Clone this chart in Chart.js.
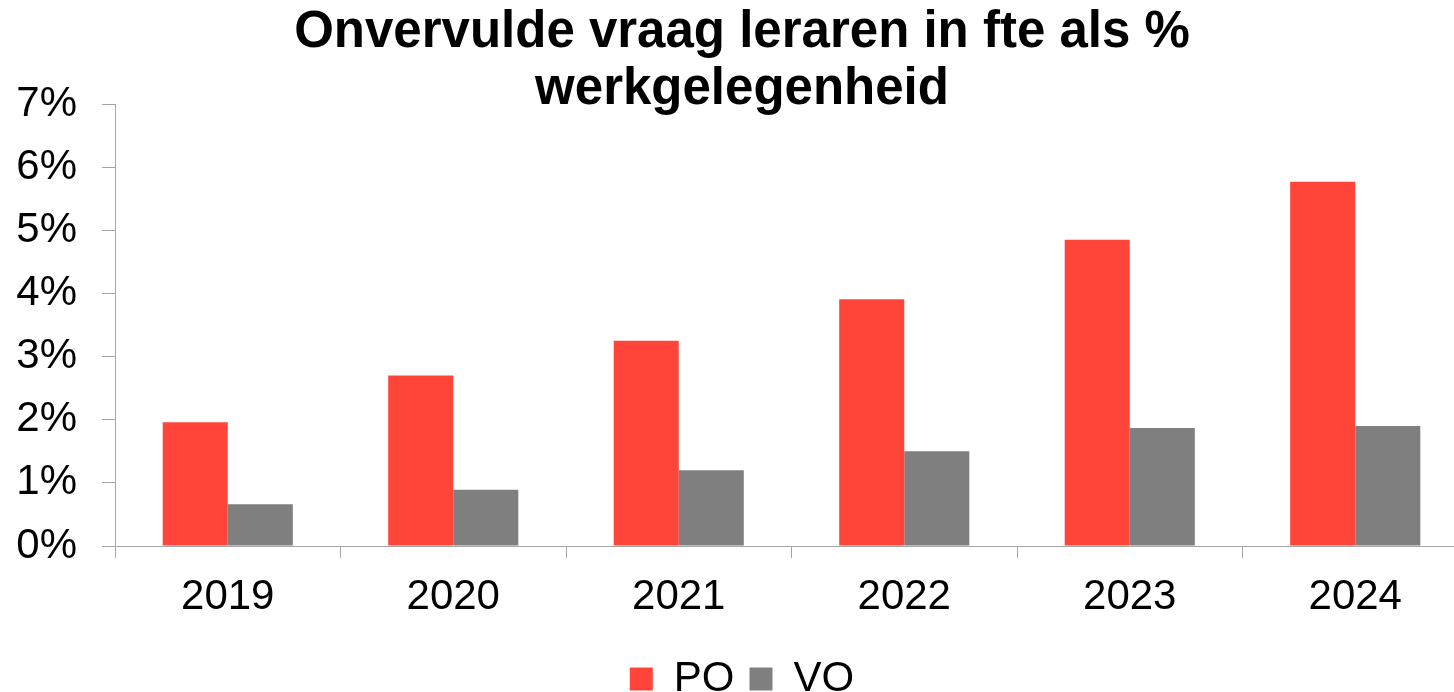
<!DOCTYPE html>
<html>
<head>
<meta charset="utf-8">
<script src="https://cdn.jsdelivr.net/npm/chart.js@4"></script>
<style>
    html, body { margin: 0; padding: 0; background: #fff; overflow: hidden; }
    #wrap { position: absolute; left: 0; top: 0; width: 1480px; height: 710px; }
</style>
</head>
<body>
<div id="wrap"><canvas id="chart" width="1480" height="710"></canvas></div>
<script>
"use strict";

// data
const years = ['2019', '2020', '2021', '2022', '2023', '2024'];
const poValues = [1.96, 2.70, 3.25, 3.91, 4.85, 5.77];
const voValues = [0.66, 0.89, 1.20, 1.50, 1.87, 1.90];
const titleLines = ['Onvervulde vraag leraren in fte als %', 'werkgelegenheid'];

const FONT = "'Liberation Sans', Arial, sans-serif";
const AXIS_COLOR = '#a6a6a6';

Chart.defaults.font.family = FONT;
Chart.defaults.color = '#000';

const config = {
    type: 'bar',
    data: {
        labels: years,
        datasets: [{
            label: 'PO',
            data: poValues,
            backgroundColor: '#ff453a',
            borderWidth: 0
        }, {
            label: 'VO',
            data: voValues,
            backgroundColor: '#7f7f7f',
            borderWidth: 0
        }]
    },
    options: {
        responsive: false,
        animation: false,
        devicePixelRatio: 1,
        categoryPercentage: 0.577,
        barPercentage: 1,
        layout: {
            padding: { left: 16, right: 12, top: 0, bottom: 0 }
        },
        plugins: {
            title: {
                display: true,
                text: titleLines,
                font: { size: 51, weight: 'bold', lineHeight: 1.118 },
                color: '#000',
                padding: { top: 4, bottom: -14 }
            },
            legend: {
                position: 'bottom',
                labels: {
                    boxWidth: 23,
                    boxHeight: 23,
                    padding: 15,
                    font: { size: 42 }
                }
            },
            tooltip: { enabled: false }
        },
        scales: {
            y: {
                min: 0,
                max: 7,
                afterFit: (scale) => { scale.width = 99; },
                ticks: {
                    stepSize: 1,
                    padding: 25,
                    font: { size: 42 },
                    callback: (v) => v + '%'
                },
                grid: {
                    drawOnChartArea: false,
                    drawTicks: true,
                    tickLength: 13,
                    color: AXIS_COLOR
                },
                border: { color: AXIS_COLOR, width: 1 }
            },
            x: {
                afterFit: (scale) => { scale.height = 97; },
                ticks: {
                    padding: 13.8,
                    font: { size: 42 }
                },
                grid: {
                    drawOnChartArea: false,
                    drawTicks: true,
                    tickLength: 12,
                    color: AXIS_COLOR
                },
                border: { color: AXIS_COLOR, width: 1 }
            }
        }
    }
};

new Chart(document.getElementById('chart'), config);
</script>
</body>
</html>
